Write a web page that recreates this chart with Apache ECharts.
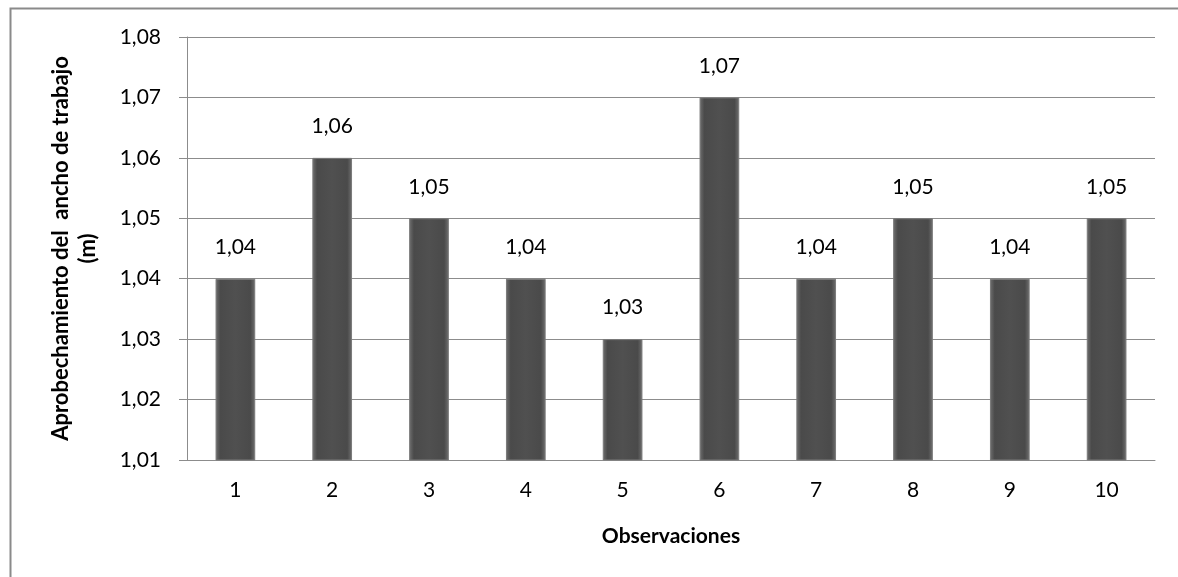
<!DOCTYPE html>
<html>
<head>
<meta charset="utf-8">
<script src="https://cdn.jsdelivr.net/npm/echarts@6/dist/echarts.min.js"></script>
<style>
html,body{margin:0;padding:0;background:#fff;}
#chart{width:1178px;height:577px;}
</style>
</head>
<body>
<div id="chart"></div>
<script>
const categories = ['1','2','3','4','5','6','7','8','9','10'];
const values = [1.04, 1.06, 1.05, 1.04, 1.03, 1.07, 1.04, 1.05, 1.04, 1.05];
const yTicks = { min: 1.01, max: 1.08, interval: 0.01 };
const yAxisTitle = 'Aprobechamiento del  ancho de trabajo\n(m)';
const xAxisTitle = 'Observaciones';

const fmt = v => Number(v).toFixed(2).replace('.', ',');
const FONT = 'Lato, "Open Sans", sans-serif';

const chart = echarts.init(document.getElementById('chart'), null, {renderer: 'canvas'});
chart.setOption({
  animation: false,
  backgroundColor: '#fff',
  graphic: [{
    type: 'rect', left: 8, top: 6, z: -1,
    shape: { width: 1200, height: 600 },
    style: { fill: 'none', stroke: '#8a8a8a', lineWidth: 2 }
  }],
  grid: { left: 187, right: 23, top: 37, bottom: 117, containLabel: false },
  xAxis: {
    type: 'category',
    data: categories,
    name: xAxisTitle,
    nameLocation: 'middle',
    nameGap: 66,
    nameTextStyle: { fontFamily: FONT, fontWeight: 'bold', fontSize: 21, color: '#000' },
    axisLine: { lineStyle: { color: '#8c8c8c', width: 1 } },
    axisTick: { show: false },
    axisLabel: { fontFamily: FONT, fontSize: 21, color: '#000', margin: 20 }
  },
  yAxis: {
    type: 'value',
    min: yTicks.min, max: yTicks.max, interval: yTicks.interval,
    name: yAxisTitle,
    nameLocation: 'middle',
    nameGap: 86,
    nameRotate: 90,
    nameTextStyle: { fontFamily: FONT, fontWeight: 'bold', fontSize: 22, color: '#000', lineHeight: 27 },
    axisLine: { show: true, lineStyle: { color: '#8c8c8c', width: 1 } },
    axisTick: { show: true, length: 8, lineStyle: { color: '#8c8c8c' } },
    axisLabel: { fontFamily: FONT, fontSize: 21, color: '#000', margin: 26, formatter: v => fmt(v) },
    splitLine: { lineStyle: { color: '#8c8c8c', width: 1 } }
  },
  series: [{
    type: 'bar',
    data: values,
    barWidth: '41%',
    itemStyle: {
      color: new echarts.graphic.LinearGradient(0, 0, 1, 0, [
        { offset: 0, color: '#707070' },
        { offset: 0.12, color: '#4a4a4a' },
        { offset: 0.5, color: '#505050' },
        { offset: 0.88, color: '#4a4a4a' },
        { offset: 1, color: '#707070' }
      ]),
      borderColor: '#7a7a7a',
      borderWidth: 1
    },
    label: {
      show: true,
      position: 'top',
      distance: 21,
      fontFamily: FONT,
      fontSize: 21,
      color: '#000',
      formatter: p => fmt(p.value)
    }
  }]
});
</script>
</body>
</html>
